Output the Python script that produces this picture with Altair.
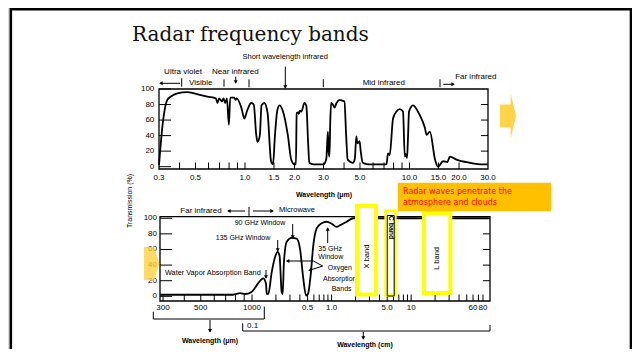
import math
import altair as alt
import pandas as pd

# ---------------- data ----------------
# Upper panel: atmospheric transmission (%) versus wavelength (micrometres)
top_wavelength_um = [0.30, 0.314, 0.337, 0.353, 0.388, 0.446, 0.539, 0.60, 0.665, 0.680,
                     0.696, 0.724, 0.740, 0.758, 0.776, 0.798, 0.813, 0.86, 0.875, 0.89,
                     0.953, 0.99, 1.03, 1.09, 1.13, 1.17, 1.19, 1.23, 1.26, 1.31,
                     1.37, 1.44, 1.48, 1.52, 1.57, 1.62, 1.69, 1.82, 1.91, 2.00,
                     2.04, 2.06, 2.10, 2.12, 2.16, 2.20, 2.30, 2.36, 2.42, 2.46,
                     2.60, 3.00, 3.12, 3.19, 3.22, 3.26, 3.30, 3.34, 3.42, 3.50,
                     3.60, 3.76, 3.90, 4.02, 4.12, 4.21, 4.52, 4.65, 4.75, 4.80,
                     4.85, 4.97, 5.05, 5.20, 5.60, 7.24, 7.40, 7.58, 7.94, 8.33,
                     8.72, 9.13, 9.36, 9.50, 9.66, 9.80, 9.93, 10.5, 11.5, 12.4,
                     12.7, 13.3, 14.3, 14.9, 16.0, 17.0, 17.6, 19.3, 23.3, 28.1, 30.0]
top_transmission = [2, 50, 86, 90, 94.5, 96, 92, 90, 88, 82,
                    88, 84, 88, 82, 88, 54, 89, 89, 86, 88,
                    75, 62, 72, 82, 80, 41, 32, 40, 79, 82,
                    70, 7, 3, 40, 72, 79, 73, 41, 9, 3,
                    3, 69, 70, 68, 72, 71, 82, 78, 30, 5,
                    3, 3, 10, 45, 20, 13, 60, 82, 80, 76,
                    82, 86, 85, 84, 40, 9, 5, 10, 39, 32,
                    30, 33, 20, 5, 3, 3, 17, 15, 62, 71,
                    74, 71, 13, 16, 11, 40, 71, 79, 67, 50,
                    41, 45, 9, 0, 7, 6, 13, 9, 5, 3, 3]

# Lower panel: transmission (%) versus wavelength (cm)
bottom_wavelength_cm = [0.0288, 0.0495, 0.0774, 0.0851, 0.091, 0.0998, 0.1146, 0.132, 0.139, 0.150,
                        0.153, 0.160, 0.177, 0.1945, 0.210, 0.222, 0.236, 0.243, 0.252, 0.273,
                        0.315, 0.364, 0.401, 0.441, 0.477, 0.505, 0.546, 0.589, 0.650, 0.751,
                        0.868, 1.003, 1.159, 1.275, 1.548, 1.874, 2.5, 98]
bottom_transmission = [2, 2, 2, 4, 3, 6, 14, 22, 23, 16,
                       3.5, 3, 31, 50, 57, 52, 5.5, 3, 44, 70,
                       75, 74, 61, 23, 1, 3, 27, 65, 87, 93.6,
                       95.5, 93, 89, 91, 95.5, 100, 100, 100]

top_axis_values = [0.3, 0.5, 1.0, 1.5, 2.0, 3.0, 5.0, 10.0, 15.0, 20.0, 30.0]
top_axis_labels = ["0.3", "0.5", "1.0", "1.5", "2.0", "3.0", "5.0", "10.0", "15.0", "20.0", "30.0"]
top_minor_ticks = [0.4, 0.5, 0.6, 0.7, 0.8, 0.9, 1.0, 1.5, 2, 3, 4, 5, 6, 7, 8, 9, 10, 15, 20]
y_axis_values = [0, 20, 40, 60, 80, 100]
y_axis_labels = ["0", "20", "40", "60", "80", "100"]
right_ticks = [20, 40, 60, 80]
bottom_axis_values = [0.03, 0.05, 0.1, 0.5, 1.0, 5.0, 10, 60, 80]
bottom_axis_labels = ["300", "500", "1000", "0.5", "1.0", "5.0", "10", "60", "80"]
bottom_minor_ticks = [0.03, 0.04, 0.05, 0.06, 0.07, 0.08, 0.09, 0.1,
                      0.2, 0.3, 0.4, 0.5, 0.6, 0.7, 0.8, 0.9, 1.0,
                      2, 3, 4, 5, 6, 7, 8, 9, 10, 20, 30, 40, 50, 60, 70, 80]

# ---------------- layout helpers ----------------
W, H = 624, 341
FONT = "Liberation Sans"
one = pd.DataFrame({"k": [0]})


def line(x1, y1, x2, y2, w=1.0, color="black"):
    return alt.Chart(one).mark_rule(color=color, strokeWidth=w).encode(
        x=alt.value(x1), y=alt.value(y1), x2=alt.value(x2), y2=alt.value(y2))


def head(x1, y1, x2, y2, size=16):
    dx, dy = x2 - x1, y2 - y1
    L = math.hypot(dx, dy)
    ang = math.degrees(math.atan2(dx, -dy)) % 360
    cx, cy = x2 - dx / L * 1.5, y2 - dy / L * 1.5
    return alt.Chart(one).mark_point(shape="triangle", filled=True, size=size, color="black",
                                     opacity=1, angle=ang).encode(x=alt.value(cx), y=alt.value(cy))


def arrow(x1, y1, x2, y2, w=1.0):
    return [line(x1, y1, x2, y2, w), head(x1, y1, x2, y2)]


def text(t, x, y, size=7, align="center", angle=0, color="black", font=FONT,
         weight="normal", baseline="middle"):
    return alt.Chart(one).mark_text(text=t, align=align, baseline=baseline, fontSize=size,
                                    font=font, fontWeight=weight, color=color,
                                    angle=angle).encode(x=alt.value(x), y=alt.value(y))


def box(x1, y1, x2, y2, stroke="black", w=1.0, fill="white", fill_opacity=1.0):
    return alt.Chart(one).mark_rect(stroke=stroke, strokeWidth=w, fill=fill,
                                    fillOpacity=fill_opacity).encode(
        x=alt.value(x1), y=alt.value(y1), x2=alt.value(x2), y2=alt.value(y2))


def xlabels(values, labels, scale, ypix):
    df = pd.DataFrame({"v": values, "lab": labels})
    return alt.Chart(df).mark_text(font=FONT, fontSize=8, color="black", baseline="middle").encode(
        x=alt.X("v:Q", scale=scale, axis=None), y=alt.value(ypix), text="lab:N")


def ylabels(values, labels, scale, xpix):
    df = pd.DataFrame({"v": values, "lab": labels})
    return alt.Chart(df).mark_text(font=FONT, fontSize=8, color="black", baseline="middle",
                                   align="right").encode(
        y=alt.Y("v:Q", scale=scale, axis=None), x=alt.value(xpix), text="lab:N")


# ---------------- upper panel ----------------
top_x = alt.Scale(type="log", domain=[0.3, 30], range=[151, 480], nice=False)
top_y = alt.Scale(domain=[-3, 100], range=[161, 81], nice=False, zero=False)

top_df = pd.DataFrame({"wl": top_wavelength_um, "tr": top_transmission})
top_line = alt.Chart(top_df).mark_line(color="black", strokeWidth=1.8, interpolate="monotone").encode(
    x=alt.X("wl:Q", scale=top_x, axis=None),
    y=alt.Y("tr:Q", scale=top_y, axis=None))
top_frame = alt.Chart(one).mark_rect(fillOpacity=0, stroke="black", strokeWidth=1.3).encode(
    x=alt.XDatum(0.3, scale=top_x, axis=None, type="quantitative"), x2=alt.X2Datum(30),
    y=alt.YDatum(-3, scale=top_y, axis=None, type="quantitative"), y2=alt.Y2Datum(100))
top_xt = alt.Chart(pd.DataFrame({"wl": top_minor_ticks})).mark_rule(color="black").encode(
    x=alt.X("wl:Q", scale=top_x, axis=None), y=alt.value(161), y2=alt.value(154.5))
top_yl = alt.Chart(pd.DataFrame({"v": y_axis_values})).mark_rule(color="black").encode(
    y=alt.Y("v:Q", scale=top_y, axis=None), x=alt.value(151), x2=alt.value(163))
top_yr = alt.Chart(pd.DataFrame({"v": right_ticks})).mark_rule(color="black").encode(
    y=alt.Y("v:Q", scale=top_y, axis=None), x=alt.value(473), x2=alt.value(480))
top_panel = alt.layer(top_frame, top_xt, top_yl, top_yr, top_line,
                      xlabels(top_axis_values, top_axis_labels, top_x, 169.7),
                      ylabels(y_axis_values, y_axis_labels, top_y, 146.3))

# ---------------- lower panel ----------------
bot_x = alt.Scale(type="log", domain=[0.0288, 0.1, 98], range=[152, 244, 482], nice=False)
bot_y = alt.Scale(domain=[-6, 102], range=[293, 208.7], nice=False, zero=False)

bot_df = pd.DataFrame({"wl": bottom_wavelength_cm, "tr": bottom_transmission})
bot_line = alt.Chart(bot_df).mark_line(color="black", strokeWidth=1.8, interpolate="monotone").encode(
    x=alt.X("wl:Q", scale=bot_x, axis=None),
    y=alt.Y("tr:Q", scale=bot_y, axis=None))
bot_frame = alt.Chart(one).mark_rect(fillOpacity=0, stroke="black", strokeWidth=1.3).encode(
    x=alt.XDatum(0.0288, scale=bot_x, axis=None, type="quantitative"), x2=alt.X2Datum(98),
    y=alt.YDatum(-6, scale=bot_y, axis=None, type="quantitative"), y2=alt.Y2Datum(102))
bot_xt = alt.Chart(pd.DataFrame({"wl": bottom_minor_ticks})).mark_rule(color="black").encode(
    x=alt.X("wl:Q", scale=bot_x, axis=None), y=alt.value(293), y2=alt.value(286.5))
bot_yl = alt.Chart(pd.DataFrame({"v": y_axis_values})).mark_rule(color="black").encode(
    y=alt.Y("v:Q", scale=bot_y, axis=None), x=alt.value(152), x2=alt.value(164))
bot_yr = alt.Chart(pd.DataFrame({"v": right_ticks})).mark_rule(color="black").encode(
    y=alt.Y("v:Q", scale=bot_y, axis=None), x=alt.value(475), x2=alt.value(482))
bot_panel = alt.layer(bot_frame, bot_xt, bot_yl, bot_yr, bot_line,
                      xlabels(bottom_axis_values, bottom_axis_labels, bot_x, 300.3),
                      ylabels(y_axis_values, y_axis_labels, bot_y, 149))

# ---------------- annotations ----------------
layers = [box(2.8, 1.3, 623, 400, stroke="black", w=2.6, fill="white", fill_opacity=0),
          text("Radar frequency bands", 124, 33, size=20, align="left", font="DejaVu Serif",
               baseline="alphabetic", color="#111111"),
          top_panel, bot_panel]

# upper panel region labels
layers += [
    text("Short wavelength infrared", 277.2, 49.3, size=7.5),
    text("Ultra violet", 175, 63.7, size=8),
    text("Near infrared", 227.3, 63.7, size=8),
    text("Visible", 192.7, 74.7, size=8),
    text("Mid infrared", 375.8, 74.7, size=8),
    text("Far infrared", 467.8, 68.7, size=8),
    line(173.7, 70.3, 173.7, 78.7), line(216, 71.3, 216, 78.7), line(241, 71.3, 241, 79.3),
    line(315.3, 71.3, 315.3, 79.3), line(432, 71.3, 432, 79.3),
]
layers += arrow(172, 75.3, 152, 75.3)
layers += arrow(435.3, 76.3, 446, 76.3)
layers += arrow(227.7, 68.7, 227.7, 75)
layers += arrow(277.3, 58.7, 277.3, 80)
layers += [text("Wavelength (\u03bcm)", 316, 187, weight="bold"),
           text("Transmission (%)", 122, 193, angle=270)]

# lower panel labels
layers += [
    text("Far infrared", 193, 203, size=8),
    line(241, 199, 241, 208),
    text("Microwave", 289, 202, size=7.5),
    text("90 GHz  Window", 252, 215),
    text("135 GHz Window", 235, 230),
    text("35 GHz", 310.3, 241, align="left"),
    text("Window", 310.3, 249, align="left"),
    text("Oxygen", 319.7, 259.7, align="left"),
    text("Absorption", 315, 271, align="left"),
    text("Bands", 323.7, 281, align="left"),
    text("Water Vapor Absorption Band", 157, 265, size=7.3, align="left"),
    line(305.3, 253, 314.7, 258),
]
layers += arrow(237, 203, 220, 203)
layers += arrow(245, 203, 265, 203)
layers += arrow(284.7, 216, 284.7, 230)
layers += arrow(269.7, 232, 269.7, 243)
layers += arrow(319.7, 235, 319.7, 220)
layers += arrow(305.3, 253, 278.7, 253)
layers += arrow(314.7, 258, 301, 262.5)
layers += arrow(258, 262, 258, 270)

# brackets and wavelength labels below the lower panel
layers += [
    line(145.3, 303.7, 145.3, 311), line(145.3, 311, 256.3, 311), line(256.3, 298.7, 256.3, 311),
    line(234.7, 315.3, 234.7, 323), line(234.7, 323, 482, 323), line(482, 317, 482, 323),
    text("Wavelength (\u03bcm)", 202, 332.7, weight="bold"),
    text("Wavelength (cm)", 357, 336.5, weight="bold"),
    text("0.1", 239, 317.7, size=8, align="left"),
]
layers += arrow(202, 312, 202, 323.7)
layers += arrow(355.3, 323.7, 355.3, 331)

# radar band boxes
layers += [
    box(349, 198, 368, 286.5, stroke="#FFFF00", w=4, fill="white"),
    text("X band", 359, 248.5, angle=270, size=7.5),
    box(377.8, 202.8, 387.2, 287.2, stroke="#FFFF00", w=3, fill="white"),
    box(379.3, 207.5, 386.2, 288, stroke="black", w=1, fill="white", fill_opacity=0),
    text("C band", 382.7, 219.5, angle=90, size=7, weight="bold"),
    box(416, 205, 442.3, 285, stroke="#FFFF00", w=4, fill="white"),
    text("L band", 429.3, 250.3, angle=270, size=7.5),
]

# callout box
layers += [
    box(390, 175, 543, 203, stroke="#FFC000", w=0.5, fill="#FFC000"),
    text("Radar waves penetrate the", 395, 183.7, size=8, align="left", color="#FF0000",
         font="DejaVu Sans"),
    text("atmosphere and  clouds", 395, 195, size=8, align="left", color="#FF0000",
         font="DejaVu Sans"),
]

# yellow block arrows
right_arrow = "M-0.356,-0.51L0.12,-0.51L0.12,-1L0.356,0L0.12,1L0.12,0.51L-0.356,0.51Z"
left_arrow = "M-0.35,-0.83L0.12,-0.83L0.12,-1L0.41,0L0.12,1L0.12,0.83L-0.35,0.83Z"
layers += [
    alt.Chart(one).mark_point(shape=right_arrow, filled=True, size=2025, color="#FFD23F",
                              opacity=0.95).encode(x=alt.value(500), y=alt.value(108)),
    alt.Chart(one).mark_point(shape=left_arrow, filled=True, size=1600, color="#FFD23F",
                              opacity=0.8).encode(x=alt.value(143), y=alt.value(255.5)),
]

chart = (
    alt.layer(*layers)
    .resolve_scale(x="independent", y="independent")
    .properties(width=W, height=H, padding=0, autosize=alt.AutoSizeParams(type="none"))
    .configure_view(stroke="transparent")
    .configure(background="white")
)

chart.save("out.html", embed_options={"renderer": "svg", "actions": False})
